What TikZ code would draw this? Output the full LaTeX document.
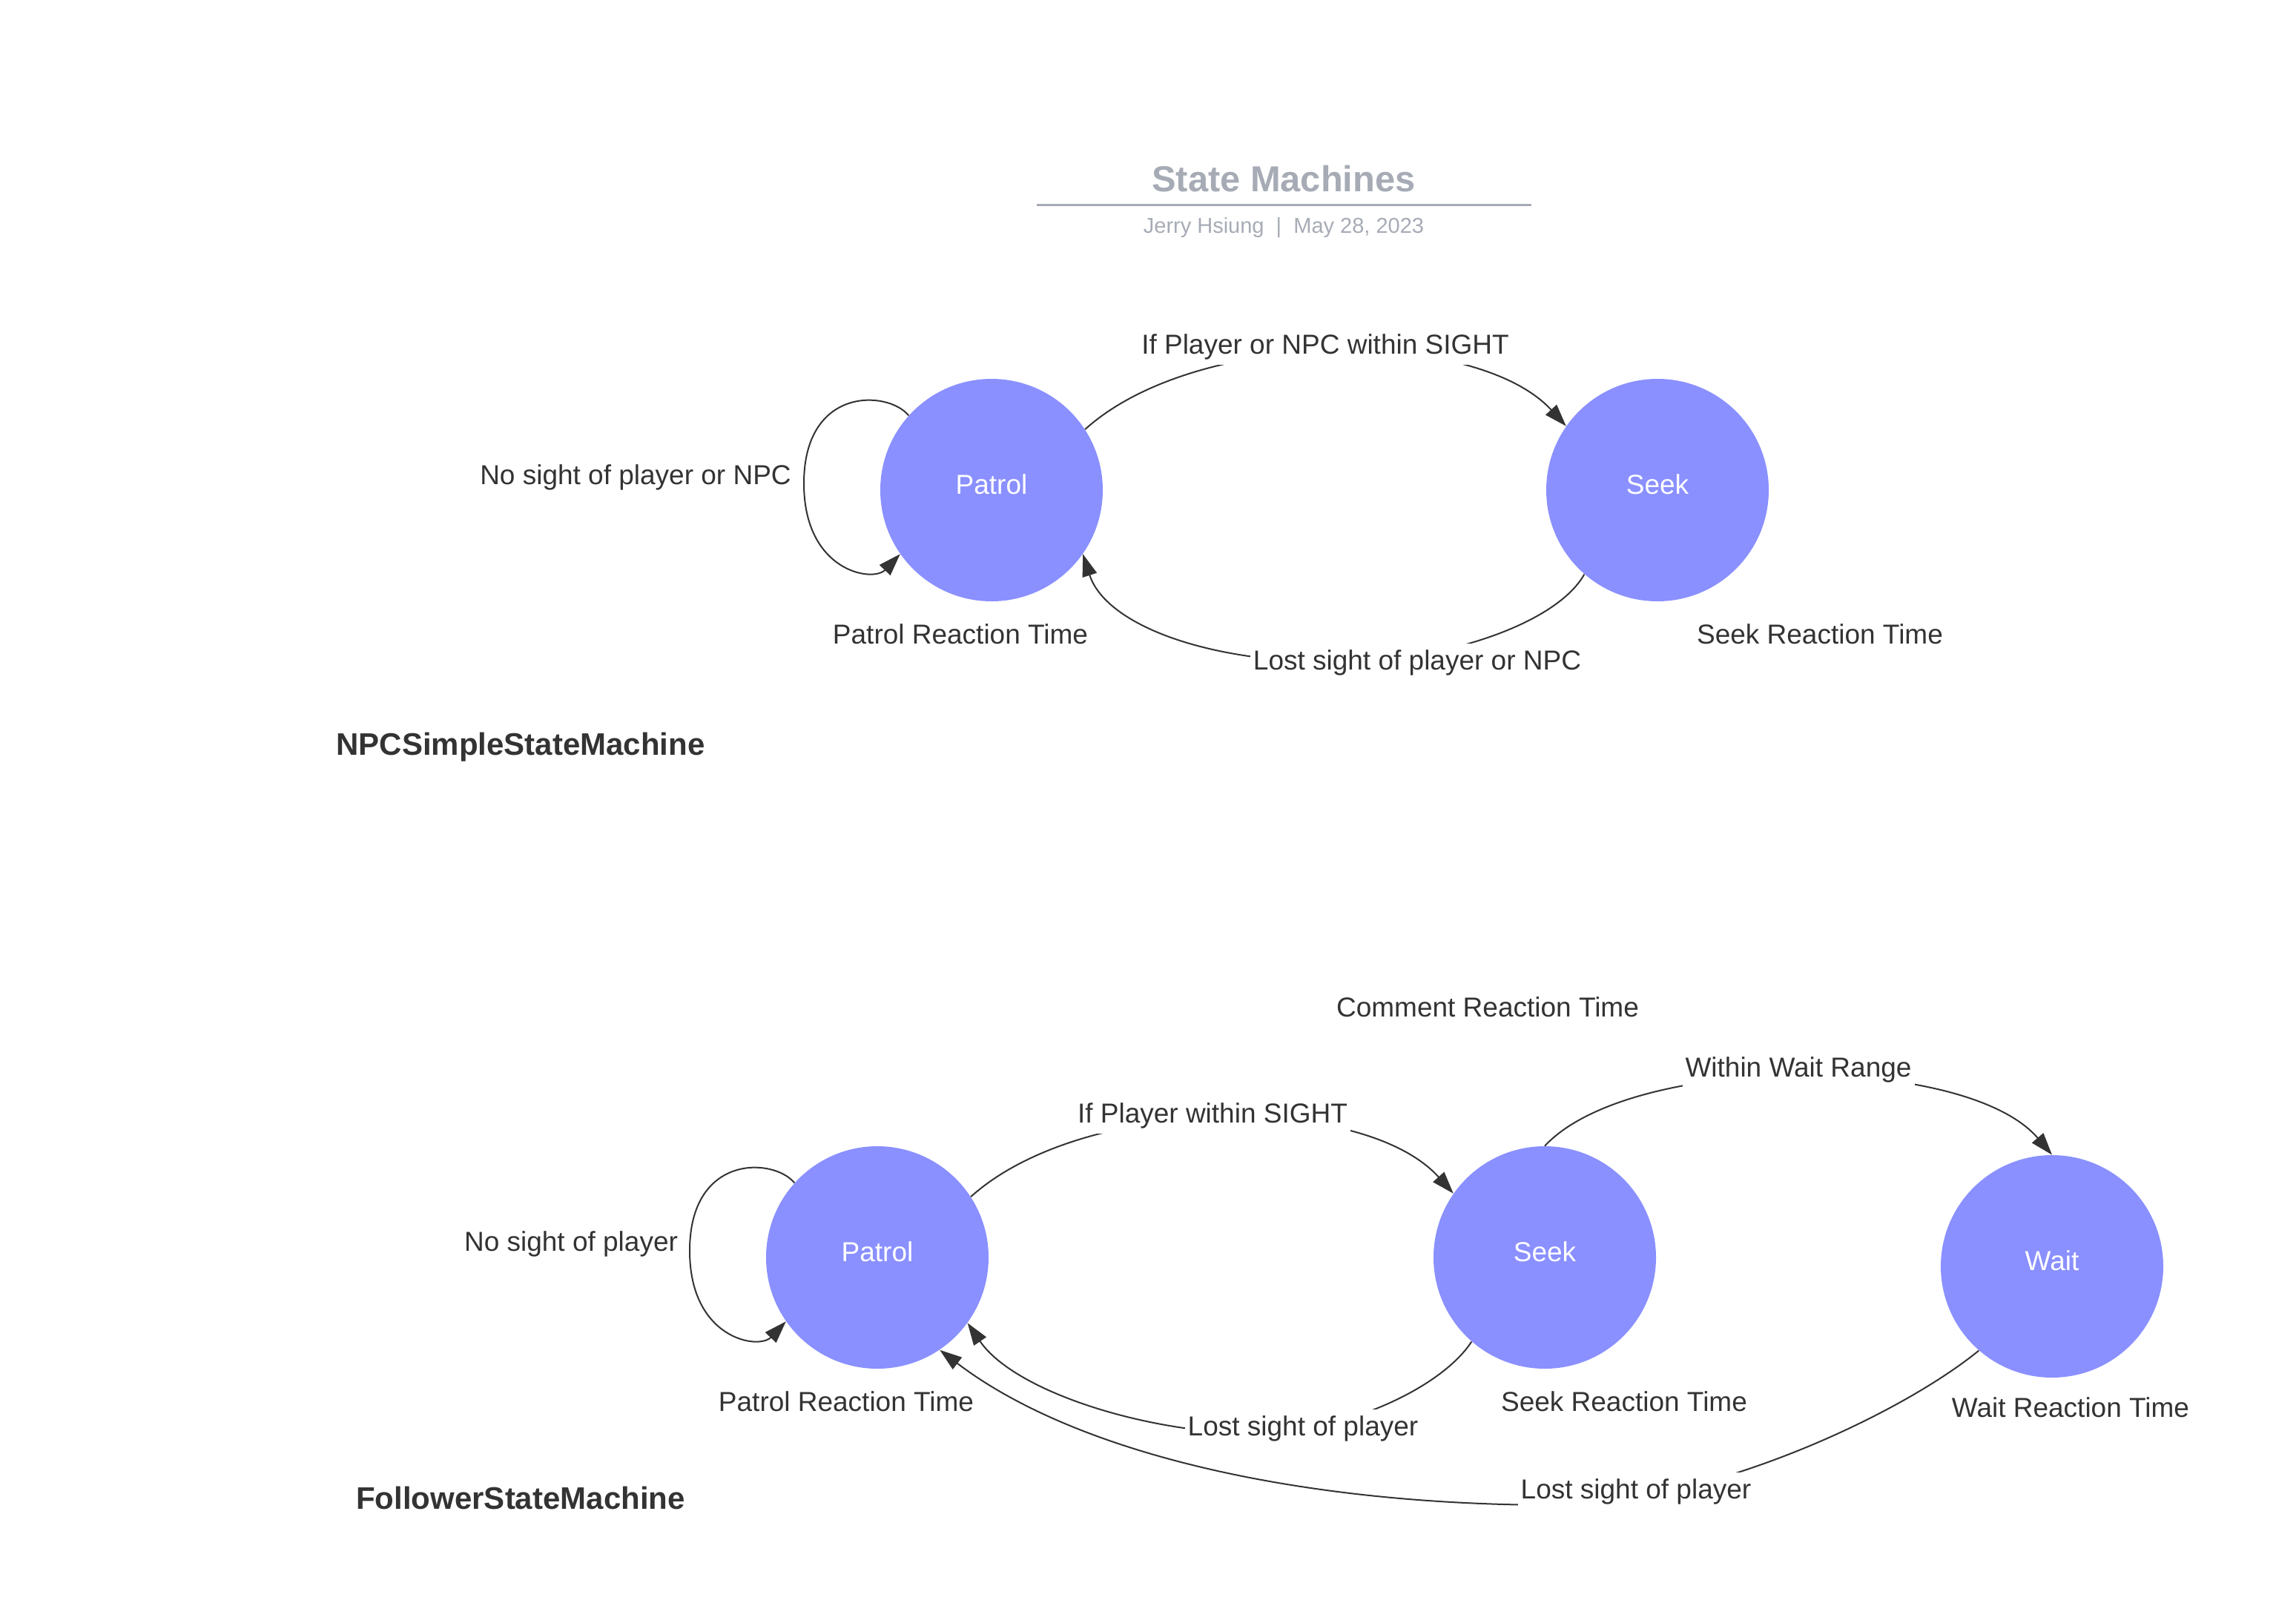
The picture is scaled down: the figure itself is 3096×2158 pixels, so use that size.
\documentclass[tikz,border=0pt]{standalone}
\usepackage{fontspec}
\setmainfont{Liberation Sans}
\usetikzlibrary{arrows.meta}
\definecolor{statefill}{RGB}{138,144,255}
\definecolor{ink}{RGB}{51,51,51}
\definecolor{titlegrey}{RGB}{166,171,181}
\begin{document}
\begin{tikzpicture}[x=0.5pt,y=-0.5pt,
  state/.style={circle, fill=statefill, minimum size=150pt, inner sep=0pt, text=white, font=\fontsize{18.5}{22}\selectfont, text height=13.5pt, text depth=8pt},
  basetext/.style={text=ink, font=\fontsize{18.5}{22}\selectfont, inner sep=0pt},
  lbl/.style={basetext, text height=7.4pt, text depth=2.1pt, yshift=-4pt},
  elbl/.style={basetext, fill=white, text height=17.7pt, text depth=7.4pt, inner xsep=2pt, inner ysep=0pt, yshift=-1.5pt},
  sect/.style={text=ink, font=\bfseries\fontsize{21}{25}\selectfont, inner sep=0pt, text height=7.4pt, text depth=0pt, yshift=-4pt},
  conn/.style={draw=ink, line width=1pt, -{Triangle[length=15pt,width=10pt]}},
]
\useasboundingbox (0,0) rectangle (3096,2158);

% title
\node[text=titlegrey, font=\bfseries\fontsize{24.4}{28}\selectfont, inner sep=0pt] (title) at (1731,241) {State Machines};
\coordinate (ruleL) at (1398,276);
\coordinate (ruleR) at (2065,276);
\draw[titlegrey, line width=1.5pt] (ruleL) -- (ruleR);
\node[text=titlegrey, font=\fontsize{14.5}{17}\selectfont, inner sep=0pt] (sub) at (1731,307) {Jerry Hsiung~~|~~May 28, 2023};

% states
\node[state] (patrol) at (1337,661) {Patrol};
\node[state] (seek) at (2235,661) {Seek};
\node[state] (patrol2) at (1183,1696) {Patrol};
\node[state] (seek2) at (2083,1696) {Seek};
\node[state] (wait) at (2767,1708) {Wait};

% top connectors
\draw[conn] (patrol.33) .. controls (1615,442) and (1990,442) .. (seek.145);
\draw[conn] (patrol.138) .. controls (1197,526) and (1084,521) .. (1084,652) .. controls (1084,771) and (1177,786) .. (patrol.215);
\draw[conn] (seek.229) .. controls (2100,840) and (1950,893) .. (1800,893) .. controls (1620,893) and (1490,840) .. (patrol.325);

% bottom connectors
\draw[conn] (patrol2.33) .. controls (1461,1477) and (1838,1474) .. (seek2.145);
\draw[conn] (patrol2.138) .. controls (1043,1561) and (930,1556) .. (930,1687) .. controls (930,1806) and (1023,1821) .. (patrol2.215);
\draw[conn] (seek2.90) .. controls (2200,1420) and (2650,1420) .. (wait.90);
\draw[conn] (seek2.229) .. controls (1945,1870) and (1820,1930) .. (1700,1933) .. controls (1560,1936) and (1370,1880) .. (patrol2.324);
\draw[conn] (wait.229) .. controls (2560,1910) and (2300,2030) .. (2100,2030) .. controls (1750,2030) and (1450,1960) .. (patrol2.304);

% top labels
\node[lbl] (nosight1) at (857,640) {No sight of player or NPC};
\node[elbl] (e1) at (1787,464) {If Player or NPC within SIGHT};
\node[lbl] (prt1) at (1295,855) {Patrol Reaction Time};
\node[lbl] (srt1) at (2454,855) {Seek Reaction Time};
\node[elbl] (e2) at (1911,890) {Lost sight of player or NPC};
\node[sect] (npc) at (702,1003) {NPCSimpleStateMachine};

% bottom labels
\node[lbl] (crt) at (2006,1358) {Comment Reaction Time};
\node[elbl] (e3) at (2425,1439) {Within Wait Range};
\node[elbl] (e4) at (1635,1501) {If Player within SIGHT};
\node[lbl] (nosight2) at (770,1674) {No sight of player};
\node[lbl] (prt2) at (1141,1890) {Patrol Reaction Time};
\node[lbl] (srt2) at (2190,1890) {Seek Reaction Time};
\node[lbl] (wrt) at (2792,1898) {Wait Reaction Time};
\node[elbl] (e5) at (1757,1923) {Lost sight of player};
\node[elbl] (e6) at (2206,2008) {Lost sight of player};
\node[sect] (fol) at (702,2020) {FollowerStateMachine};
\end{tikzpicture}
\end{document}
